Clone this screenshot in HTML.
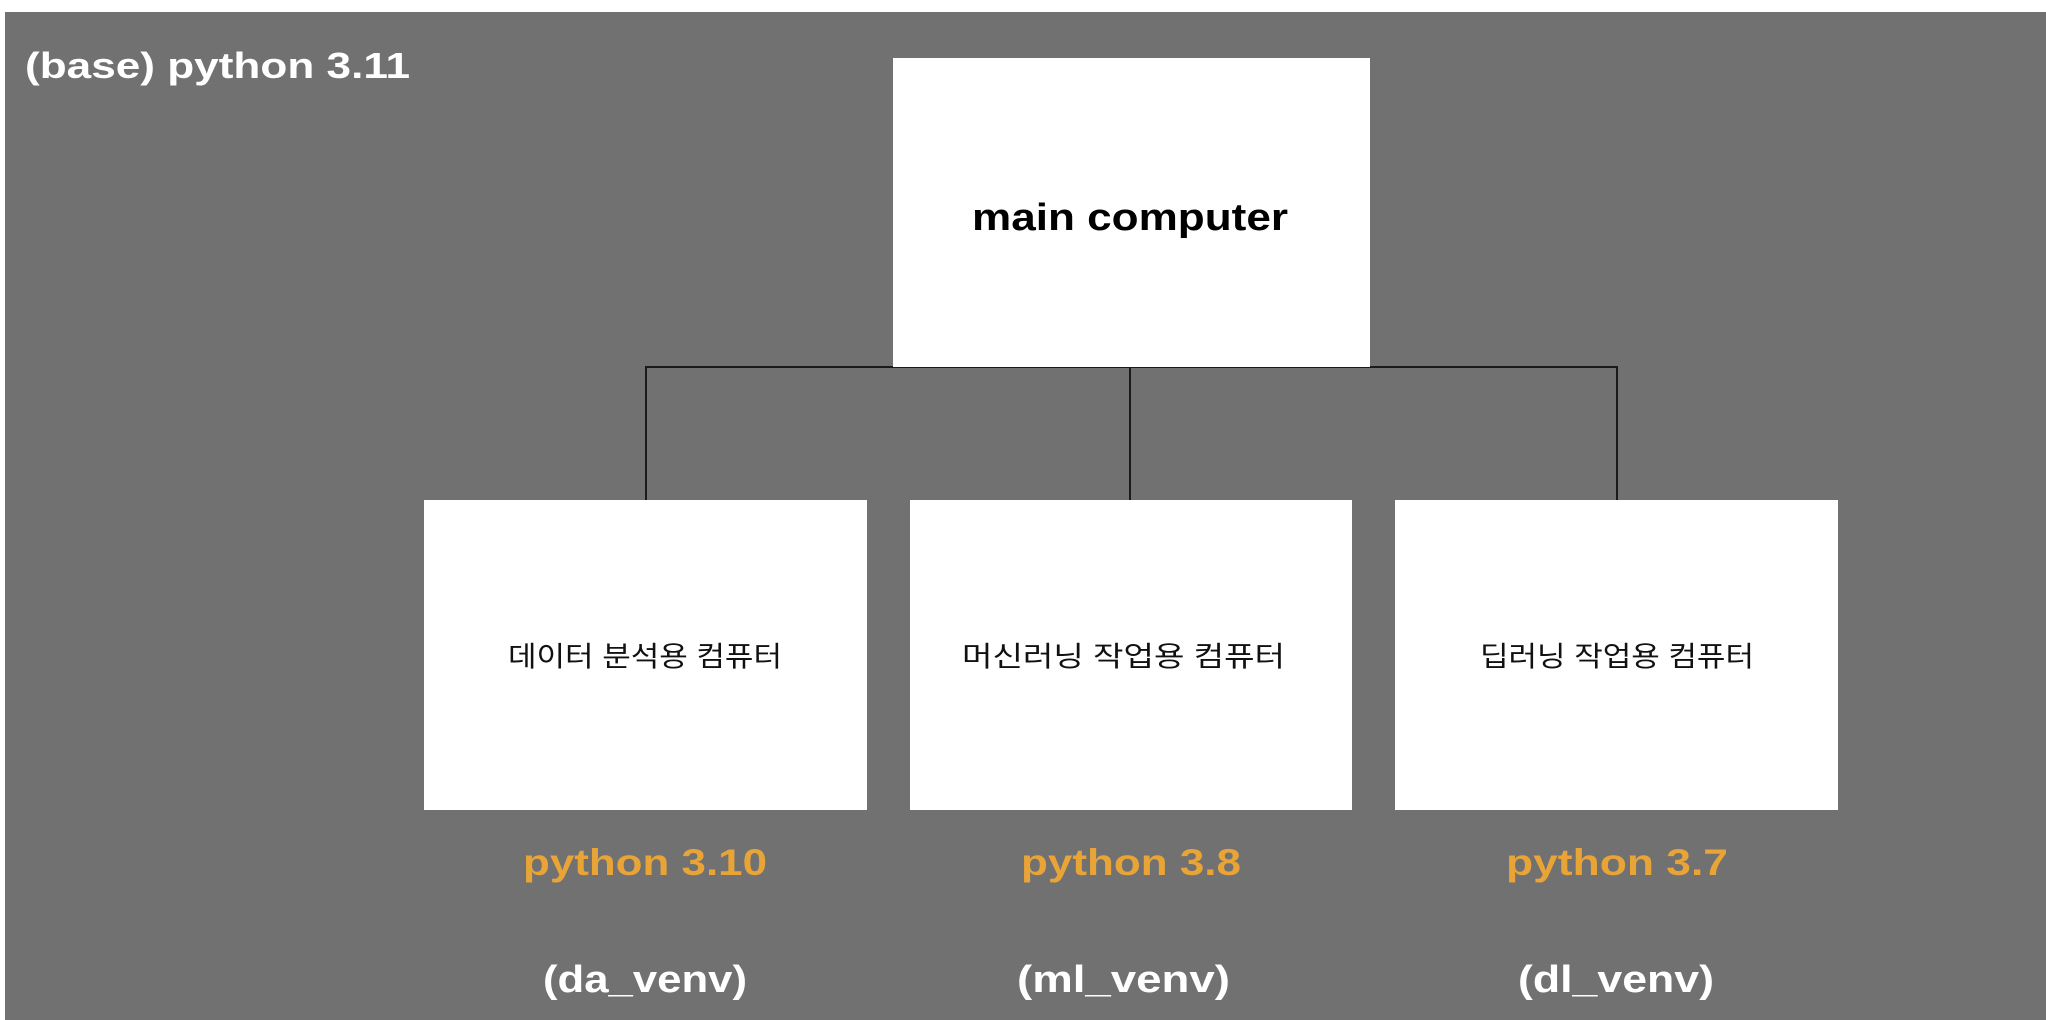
<!DOCTYPE html>
<html><head><meta charset="utf-8"><style>
html,body{margin:0;padding:0;background:#fff;}
svg{display:block;}
</style></head><body>
<svg width="2046" height="1020" viewBox="0 0 2046 1020" xmlns="http://www.w3.org/2000/svg">
<rect x="0" y="0" width="2046" height="1020" fill="#ffffff"/>
<rect x="5" y="12" width="2041" height="1008" fill="#717171"/>
<text x="25" y="78" font-family="Liberation Sans, sans-serif" font-weight="bold" font-size="36" fill="#ffffff" textLength="385" lengthAdjust="spacingAndGlyphs">(base) python 3.11</text>
<g stroke="#1a1a1a" stroke-width="2" fill="none">
<polyline points="646,500 646,367 1617,367 1617,500"/>
<line x1="1130" y1="367" x2="1130" y2="500"/>
</g>
<rect x="893" y="58" width="477" height="309" fill="#ffffff"/>
<rect x="424" y="500" width="443" height="310" fill="#ffffff"/>
<rect x="910" y="500" width="442" height="310" fill="#ffffff"/>
<rect x="1395" y="500" width="443" height="310" fill="#ffffff"/>
<text x="972" y="230" font-family="Liberation Sans, sans-serif" font-weight="bold" font-size="38" fill="#000" textLength="316" lengthAdjust="spacingAndGlyphs">main computer</text>
<g font-family="Liberation Sans, 'Noto Sans CJK KR', sans-serif" font-size="28" fill="#111">
<text x="508" y="666" textLength="274" lengthAdjust="spacingAndGlyphs">데이터 분석용 컴퓨터</text>
<text x="962" y="666" textLength="323" lengthAdjust="spacingAndGlyphs">머신러닝 작업용 컴퓨터</text>
<text x="1480" y="666" textLength="274" lengthAdjust="spacingAndGlyphs">딥러닝 작업용 컴퓨터</text>
</g>
<g font-family="Liberation Sans, sans-serif" font-weight="bold" font-size="37" fill="#e8a436">
<text x="523" y="875" textLength="244" lengthAdjust="spacingAndGlyphs">python 3.10</text>
<text x="1021" y="875" textLength="220" lengthAdjust="spacingAndGlyphs">python 3.8</text>
<text x="1506" y="875" textLength="222" lengthAdjust="spacingAndGlyphs">python 3.7</text>
</g>
<g font-family="Liberation Sans, sans-serif" font-weight="bold" font-size="38" fill="#ffffff">
<text x="543" y="992" textLength="204" lengthAdjust="spacingAndGlyphs">(da_venv)</text>
<text x="1017" y="992" textLength="213" lengthAdjust="spacingAndGlyphs">(ml_venv)</text>
<text x="1518" y="992" textLength="196" lengthAdjust="spacingAndGlyphs">(dl_venv)</text>
</g>
</svg>
</body></html>
